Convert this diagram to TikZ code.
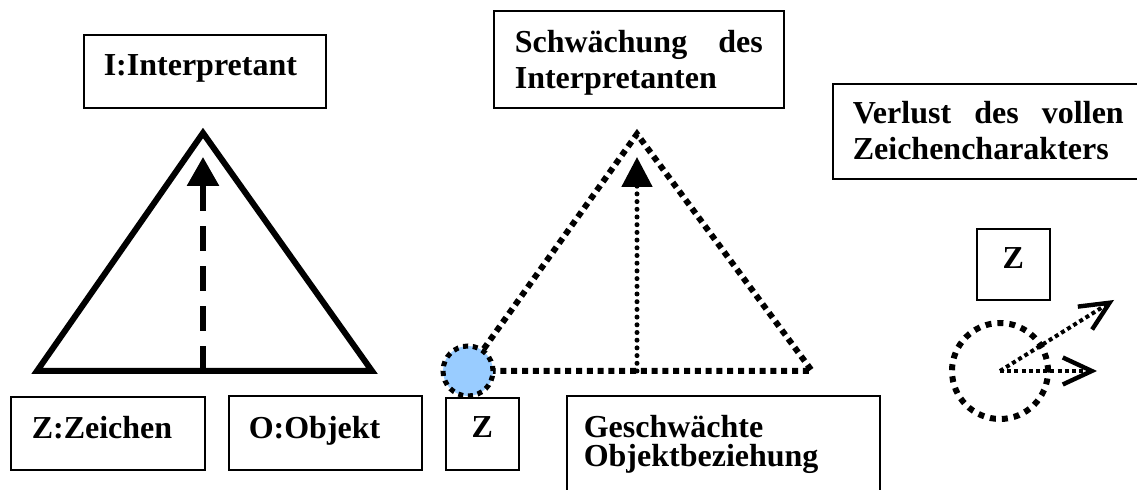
\documentclass[tikz,border=0pt]{standalone}
\usepackage{fontspec}
\setmainfont{Liberation Serif}
\usepackage{tikz}
\usetikzlibrary{arrows.meta}

\begin{document}
\begin{tikzpicture}[x=0.5pt,y=-0.5pt,
        textbox/.style={draw,line width=0.8pt,anchor=north west,inner ysep=0pt,align=left,
            font={\fontsize{16pt}{18pt}\selectfont\bfseries}},
        solidtri/.style={line width=3pt,line join=miter},
        dottri/.style={line width=3pt,dash pattern=on 3pt off 2.4pt},
        dotring/.style={circle,draw,inner sep=0pt,dash pattern=on 3pt off 3pt}]
        \useasboundingbox (0,0) rectangle (1137,490);

        \node[textbox,inner xsep=10pt,text width=101pt,text height=20.5pt,text depth=16pt] (interp) at (83,34) {I:Interpretant};
        \node[textbox,inner xsep=10.5pt,text width=76pt,text height=21pt,text depth=15.5pt] (zeichen) at (10,396) {Z:Zeichen};
        \node[textbox,inner xsep=10pt,text width=76.5pt,text height=21.5pt,text depth=15.5pt] (objekt) at (228,395) {O:Objekt};
        \node[textbox,inner xsep=0pt,text width=36.5pt,align=center,text height=20pt,text depth=16pt] (zmid) at (445,397) {Z};
        \node[textbox,inner xsep=10.5pt,text width=124pt,text height=21pt,text depth=27.5pt] (schwach) at (493,10) {Schwächung\hfill des\\Interpretanten};
        \node[textbox,inner xsep=8.5pt,text width=139.5pt,text height=21pt,text depth=31.5pt,
            font={\fontsize{16pt}{14.5pt}\selectfont\bfseries}] (geschw) at (566,395) {Geschwächte\\Objektbeziehung};
        \node[textbox,inner xsep=10pt,text width=135.5pt,text height=20pt,text depth=27.5pt] (verlust) at (832,83) {Verlust\hfill des\hfill vollen\\Zeichencharakters};
        \node[textbox,inner xsep=0pt,text width=36.5pt,align=center,text height=20pt,text depth=15.5pt] (zright) at (976,228) {Z};

        \coordinate (z1) at (37,371);
        \coordinate (o1) at (372,371);
        \coordinate (i1) at (203,133);
        \coordinate (m1) at (203,371);
        \coordinate (t1) at (203,157);
        \draw[solidtri] (z1) -- (o1) -- (i1) -- cycle;
        \draw[line width=3pt,dash pattern=on 12.5pt off 7.5pt,-{Triangle[length=14.5pt,width=15.5pt]}] (m1) -- (t1);

        \coordinate (z2) at (468,371);
        \coordinate (o2) at (812,371);
        \coordinate (i2) at (637,134);
        \coordinate (m2) at (637,371);
        \coordinate (t2) at (637,157);
        \draw[dottri] (z2) -- (o2) -- (i2) -- cycle;
        \draw[line width=2.5pt,line cap=round,dash pattern=on 0pt off 3.85pt,-{Triangle[length=15pt,width=15pt]}] (m2) -- (t2);
        \node[dotring,line width=2.5pt,dash pattern=on 2.5pt off 2.4pt,fill={rgb,255:red,153;green,204;blue,255},minimum size=25pt] (zdot) at (z2) {};

        \node[dotring,line width=3pt,minimum size=48pt] (zring) at (1000,371) {};
        \coordinate (r1) at (1097,371);
        \coordinate (r2) at (1114,300);
        \draw[line width=2pt,dash pattern=on 2pt off 1.6pt,-{Straight Barb[length=14.5pt,width=13.5pt,line width=2.2pt]}] (zring.center) -- (r1);
        \draw[line width=2pt,dash pattern=on 2pt off 1.6pt,-{Straight Barb[length=14.5pt,width=13.5pt,line width=2.2pt]}] (zring.center) -- (r2);
    \end{tikzpicture}
\end{document}
